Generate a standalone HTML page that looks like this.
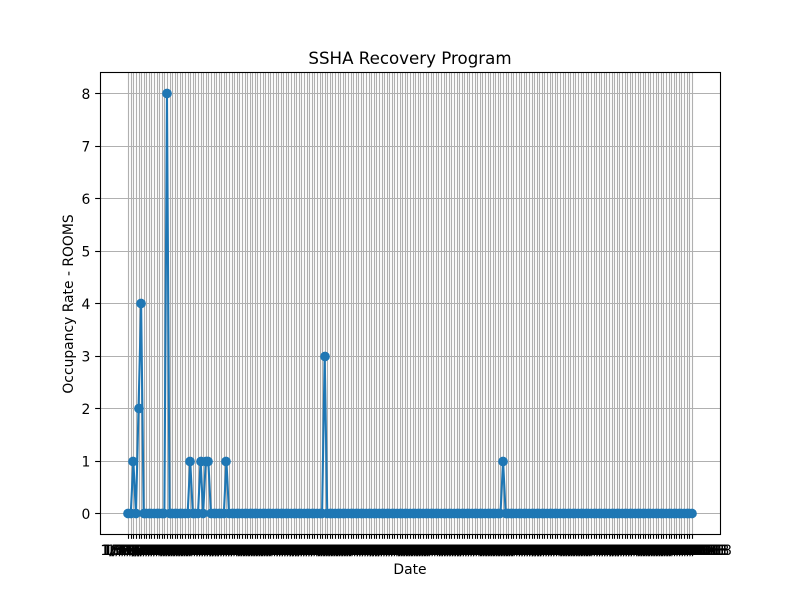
<!DOCTYPE html>
<html>
<head>
<meta charset="utf-8">
<title>SSHA Recovery Program</title>
<style>
html,body{margin:0;padding:0;background:#fff;}
svg{display:block;}
text{font-family:"DejaVu Sans","Liberation Sans",sans-serif;fill:#000;}
</style>
</head>
<body>
<svg id="chart" width="800" height="600" viewBox="0 0 800 600" xmlns="http://www.w3.org/2000/svg">
<rect x="100" y="72" width="620" height="462" fill="#fff"/>
<g id="grid"></g>
<g id="series"></g>
<g id="axes"></g>
<text x="410" y="64" font-size="16.67" text-anchor="middle">SSHA Recovery Program</text>
<text x="410" y="574" font-size="13.89" text-anchor="middle">Date</text>
<text transform="translate(73,304) rotate(-90)" font-size="13.89" text-anchor="middle">Occupancy Rate - ROOMS</text>
</svg>
<script>
const categories = [
"1/27/18","1/28/18","1/29/18","1/30/2018","1/31/2018",
"6/1/2018","6/2/2018","6/3/2018","6/4/2018","6/5/2018","6/6/2018","6/7/2018","6/8/2018","6/9/2018","6/10/2018","6/11/2018","6/12/2018","6/13/2018","6/14/2018","6/15/2018","6/16/2018","6/17/2018","6/18/2018","6/19/2018","6/20/2018","6/21/2018","6/22/2018","6/23/2018","6/24/2018","6/25/2018","6/26/2018","6/27/2018","6/28/2018","6/29/2018","6/30/2018",
"7/1/2018","7/2/2018","7/3/2018","7/4/2018","7/5/2018","7/6/2018","7/7/2018","7/8/2018","7/9/2018","7/10/2018","7/11/2018","7/12/2018","7/13/2018","7/14/2018","7/15/2018","7/16/2018","7/17/2018","7/18/2018","7/19/2018","7/20/2018","7/21/2018","7/22/2018","7/23/2018","7/24/2018","7/25/2018","7/26/2018","7/27/2018","7/28/2018","7/29/2018","7/30/2018","7/31/2018",
"8/1/2018","8/2/2018","8/3/2018","8/4/2018","8/5/2018","8/6/2018","8/7/2018","8/8/2018","8/9/2018","8/10/2018","8/11/2018","8/12/2018","8/13/2018","8/14/2018","8/15/2018","8/16/2018","8/17/2018","8/18/2018","8/19/2018","8/20/2018","8/21/2018","8/22/2018","8/23/2018","8/24/2018","8/25/2018","8/26/2018","8/27/2018","8/28/2018","8/29/2018","8/30/2018","8/31/2018",
"9/1/2018","9/2/2018","9/3/2018","9/4/2018","9/5/2018","9/6/2018","9/7/2018","9/8/2018","9/9/2018","9/10/2018","9/11/2018","9/12/2018","9/13/2018","9/14/2018","9/15/2018","9/16/2018","9/17/2018","9/18/2018","9/19/2018","9/20/2018","9/21/2018","9/22/2018","9/23/2018","9/24/2018","9/25/2018","9/26/2018","9/27/2018","9/28/2018","9/29/2018","9/30/2018",
"10/1/2018","10/2/2018","10/3/2018","10/4/2018","10/5/2018","10/6/2018","10/7/2018","10/8/2018","10/9/2018","10/10/2018","10/11/2018","10/12/2018","10/13/2018","10/14/2018","10/15/2018","10/16/2018","10/17/2018","10/18/2018","10/19/2018","10/20/2018","10/21/2018","10/22/2018","10/23/2018","10/24/2018","10/25/2018","10/26/2018","10/27/2018","10/28/2018","10/29/2018","10/30/2018","10/31/2018",
"11/1/2018","11/2/2018","11/3/2018","11/4/2018","11/5/2018","11/6/2018","11/7/2018","11/8/2018","11/9/2018","11/10/2018","11/11/2018","11/12/2018","11/13/2018","11/14/2018","11/15/2018","11/16/2018","11/17/2018","11/18/2018","11/19/2018","11/20/2018","11/21/2018","11/22/2018","11/23/2018","11/24/2018","11/25/2018","11/26/2018","11/27/2018","11/28/2018","11/29/2018","11/30/2018",
"12/1/2018","12/2/2018","12/3/2018","12/4/2018","12/5/2018","12/6/2018","12/7/2018","12/8/2018","12/9/2018","12/10/2018","12/11/2018","12/12/2018","12/13/2018","12/14/2018","12/15/2018","12/16/2018","12/17/2018","12/18/2018","12/19/2018","12/20/2018","12/21/2018","12/22/2018","12/23/2018","12/24/2018","12/25/2018","12/26/2018","12/27/2018","12/28/2018","12/29/2018","12/30/2018","12/31/2018"
];
const occupancy = [
0,0,1,0,2,4,0,0,0,0,
0,0,0,0,0,8,0,0,0,0,
0,0,0,0,1,0,0,0,1,0,
1,1,0,0,0,0,0,0,1,0,
0,0,0,0,0,0,0,0,0,0,
0,0,0,0,0,0,0,0,0,0,
0,0,0,0,0,0,0,0,0,0,
0,0,0,0,0,0,3,0,0,0,
0,0,0,0,0,0,0,0,0,0,
0,0,0,0,0,0,0,0,0,0,
0,0,0,0,0,0,0,0,0,0,
0,0,0,0,0,0,0,0,0,0,
0,0,0,0,0,0,0,0,0,0,
0,0,0,0,0,0,0,0,0,0,
0,0,0,0,0,1,0,0,0,0,
0,0,0,0,0,0,0,0,0,0,
0,0,0,0,0,0,0,0,0,0,
0,0,0,0,0,0,0,0,0,0,
0,0,0,0,0,0,0,0,0,0,
0,0,0,0,0,0,0,0,0,0,
0,0,0,0,0,0,0,0,0,0,
0,0,0,0,0,0,0,0,0
];
const yTicks = [0,1,2,3,4,5,6,7,8];

const NS = "http://www.w3.org/2000/svg";
const plot = {left:100, right:720, top:72, bottom:534};
const yMin = -0.4, yMax = 8.4;
function xScale(i){
  const last = categories.length - 1;
  const lo = -0.05 * last, hi = 1.05 * last;
  return plot.left + (i - lo) / (hi - lo) * (plot.right - plot.left);
}
function yScale(v){
  return plot.bottom - (v - yMin) / (yMax - yMin) * (plot.bottom - plot.top);
}
function snap(p){ return Math.floor(p + 0.5) + 0.5; }
function mk(tag, parent, attrs){
  const el = document.createElementNS(NS, tag);
  for (const k in attrs) el.setAttribute(k, attrs[k]);
  parent.appendChild(el);
  return el;
}
const grid = document.getElementById("grid");
const axes = document.getElementById("axes");
const series = document.getElementById("series");

categories.forEach(function(label, i){
  const x = snap(xScale(i));
  const g = mk("line", grid, {x1:x, x2:x, y1:plot.top, y2:plot.bottom, stroke:"#b0b0b0", "stroke-width":1.11});
  
  
});
yTicks.forEach(function(v){
  const y = snap(yScale(v));
  const g = mk("line", grid, {x1:plot.left, x2:plot.right, y1:y, y2:y, stroke:"#b0b0b0", "stroke-width":1.11});
  
  
});

const pts = occupancy.map(function(v, i){ return xScale(i).toFixed(2) + "," + (yScale(v) + 0.5).toFixed(2); }).join(" ");
const line = mk("polyline", series, {points:pts, fill:"none", stroke:"#1f77b4", "stroke-width":2.08, "stroke-linejoin":"round"});


occupancy.forEach(function(v, i){
  const c = mk("circle", series, {cx:Math.round(xScale(i)), cy:snap(yScale(v)), r:4.86, fill:"#1f77b4"});
  
  
});

categories.forEach(function(label, i){
  const x = snap(xScale(i));
  const t = mk("line", axes, {x1:x, x2:x, y1:plot.bottom, y2:plot.bottom + 4.86, stroke:"#000", "stroke-width":1.11});
  
  
  const l = mk("text", axes, {x:xScale(i), y:555, "font-size":13.89, "text-anchor":"middle"});
  
  
  l.textContent = label;
});
yTicks.forEach(function(v){
  const y = snap(yScale(v));
  const t = mk("line", axes, {x1:plot.left - 4.86, x2:plot.left, y1:y, y2:y, stroke:"#000", "stroke-width":1.11});
  
  
  const l = mk("text", axes, {x:plot.left - 9.72, y:yScale(v) + 6, "font-size":13.89, "text-anchor":"end"});
  
  
  l.textContent = String(v);
});
const frame = mk("rect", axes, {x:100.5, y:72.5, width:620, height:462, fill:"none", stroke:"#000", "stroke-width":1.11});


</script>
</body>
</html>
